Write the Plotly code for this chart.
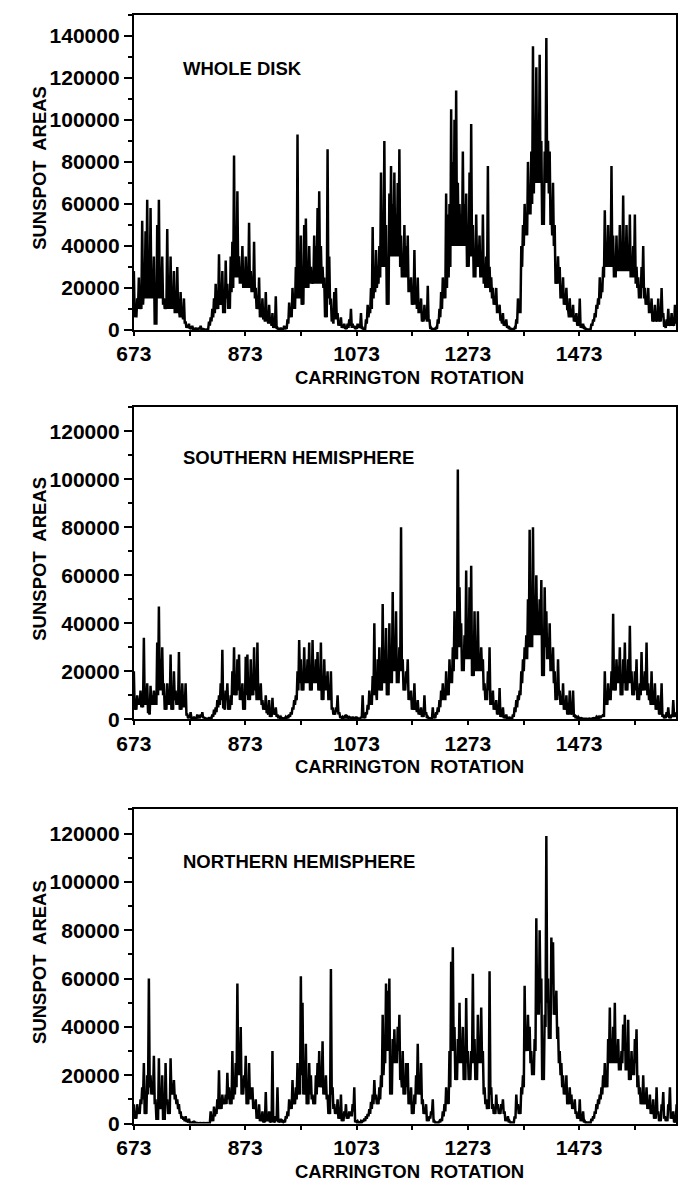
import plotly.graph_objects as go

# Carrington rotation grid: readings every 3rd rotation from 673,
# with a second reading of the local minimum half-way between them
rot_start = 673
rot_step = 3

# Sunspot areas in thousands - local maxima/readings
whole_disk_k = [
    28,8,15,25,12,52,20,47,62,25, 58,18,35,3,50,62,20,35,15,12,
    48,25,35,15,28,12,30,10,18,8, 15,4,2,3,1,2,0.5,1,0.5,1,
    2,0.5,0.3,0.2,0.5,4,6,10,15,22, 12,36,15,28,10,33,22,13,35,42,
    83,45,66,35,30,40,25,35,28,51, 28,22,42,20,12,25,8,15,6,18,
    5,12,4,8,2,16,1,0.5,1,0.5, 2,1,5,13,10,20,15,30,93,20,
    45,15,50,53,25,40,30,25,45,40, 58,66,40,30,25,8,86,35,15,5,
    18,20,8,4,6,2,3,1,3,5,
    10,3,2,1,3,2,8,1,0.5,5, 12,10,20,49,25,38,25,40,75,55,
    90,50,15,65,78,60,75,55,70,86, 45,30,50,40,45,20,25,15,38,20,
    25,10,15,5,12,8,21,5,1,0.5, 0.5,1,5,10,18,25,20,65,55,60,
    105,80,100,114,70,60,55,85,60,65, 35,75,98,50,30,55,40,45,30,55,
    30,35,78,30,25,20,15,20,10,12, 5,8,3,5,2,1,0.5,0.3,1,5,
    15,10,40,50,60,50,80,65,85,135, 100,125,85,131,90,55,85,139,90,85,
    60,70,50,25,35,30,20,25,15,20, 10,15,8,12,5,8,3,15,2,3,
    1,0.5,0.3,0.5,3,5,8,12,15,25, 20,30,57,35,50,40,78,45,30,45,
    35,50,30,64,35,50,40,55,30,40, 55,30,25,20,30,40,20,15,20,10,
    15,5,12,5,15,5,20,8,2,5, 10,3,8,3,12,5,
]
# local minima between readings (thousands)
whole_disk_low_k = [
    6,6,10,10,10,12,15,15,15,15, 15,15,3,3,15,15,15,12,10,10,
    10,10,10,10,8,8,8,6,6,5, 3,1,1,0.5,0.5,0.3,0.3,0.3,0.3,0.3,
    0.3,0.2,0.1,0.1,0.3,2,4,6,8,10, 10,12,12,8,8,15,10,10,18,20,
    25,25,25,22,22,20,20,20,20,20, 18,18,15,10,10,6,6,5,4,4,
    3,3,2,1,1,0.5,0.3,0.3,0.3,0.3, 0.5,0.5,3,6,6,10,10,15,15,15,
    12,12,20,20,20,22,22,22,22,22, 22,22,22,20,6,6,15,12,4,3,
    5,5,2,2,1,1,0.5,0.5,1,2,
    1,1,0.5,0.5,1,1,0.5,0.3,0.3,3, 6,8,10,15,18,20,22,25,30,30,
    30,12,12,35,35,35,35,35,35,30, 25,25,25,25,18,18,12,12,12,10,
    8,8,4,4,5,4,4,0.5,0.3,0.2, 0.2,0.5,3,6,10,15,15,20,25,30,
    40,40,40,40,40,40,40,40,40,30, 30,35,35,25,25,30,30,25,25,22,
    20,20,20,18,15,12,12,8,8,5, 3,2,2,1,0.5,0.3,0.2,0.2,0.5,3,
    8,8,30,40,45,45,55,55,60,65, 70,70,70,70,50,50,70,70,65,50,
    45,40,22,22,22,15,15,12,12,10, 6,6,6,4,4,2,2,1,1,0.5,
    0.3,0.2,0.2,0.3,2,4,6,10,12,15, 18,25,30,30,30,30,30,25,25,28,
    28,28,28,28,28,28,28,25,25,25, 22,20,15,15,20,15,12,12,8,8,
    4,4,4,4,4,4,6,2,1,2, 2,2,2,2,3,3,
]

southern_k = [
    20,5,10,8,12,6,34,8,15,3, 14,10,12,8,32,47,25,30,15,5,
    15,10,27,5,20,12,10,28,5,15, 8,15,2,1,3,0.5,1,0.5,2,1,
    2,3,1,0.3,0.3,0.5,0.5,2,4,5, 8,10,15,29,5,12,15,5,10,20,
    30,15,25,27,10,15,5,26,27,10, 25,15,30,20,32,10,15,8,5,10,
    3,8,2,9,3,5,2,1,1,0.5, 0.5,1,1,2,3,5,8,10,20,33,
    25,15,30,20,25,32,15,33,20,25, 28,15,32,10,25,18,20,10,20,5,
    3,5,10,3,1,1,1,2,1,1,
    0.5,1,0.5,1,0.5,0.3,1,10,1,3, 6,12,10,18,40,12,25,30,15,48,
    20,38,12,40,20,53,30,45,20,30, 80,25,15,20,25,10,12,5,15,5,
    8,3,5,2,10,3,1,0.5,0.5,5, 1,3,5,8,12,15,10,20,15,25,
    20,30,45,40,104,55,40,25,35,62, 30,55,64,20,45,30,45,25,30,25,
    15,10,20,30,8,12,5,8,3,13, 2,5,1,2,0.5,1,0.3,2,5,8,
    10,12,20,25,30,35,50,79,40,80, 45,60,40,50,58,20,55,45,30,40,
    25,30,20,10,25,12,8,15,5,10, 3,12,3,12,2,1,1,0.5,0.5,0.3,
    0.3,0.2,0.2,0.3,0.3,0.5,0.5,1,1,1, 1.5,2,20,8,15,10,20,44,15,25,
    22,30,12,25,32,15,25,39,20,15, 20,25,10,15,28,15,20,32,15,10,
    20,8,15,5,10,3,15,2,1,3, 5,1,2,8,2,3,
]
southern_low_k = [
    4,4,6,6,5,5,6,6,3,2, 6,6,6,6,10,12,12,10,4,4,
    6,6,4,4,8,6,6,4,4,5, 5,2,0.5,0.5,0.3,0.3,0.3,0.3,0.5,0.5,
    1,0.5,0.2,0.2,0.2,0.2,0.3,1,2,3, 5,6,8,5,4,8,4,4,6,10,
    10,10,12,8,8,4,4,10,8,8, 10,10,12,8,8,8,6,4,4,3,
    2,1,1,2,2,1,0.5,0.5,0.3,0.3, 0.3,0.5,0.5,1,2,4,6,8,12,15,
    12,12,15,15,15,12,12,15,15,15, 12,12,8,8,12,12,8,8,4,2,
    2,3,2,1,0.5,0.5,0.5,0.5,0.5,0.5,
    0.3,0.3,0.3,0.3,0.2,0.2,0.5,0.5,0.5,2, 4,6,6,10,10,8,12,12,12,15,
    15,10,10,15,15,20,20,15,15,20, 20,12,12,15,8,8,4,4,4,3,
    2,2,1,1,2,0.5,0.3,0.3,0.3,0.5, 0.5,2,3,5,8,8,8,10,10,15,
    15,20,25,25,30,30,20,20,25,25, 25,25,18,18,20,20,20,20,20,12,
    8,8,12,6,6,4,4,2,2,1, 1,0.5,0.5,0.3,0.3,0.2,0.2,1,3,5,
    8,10,15,20,25,25,30,30,30,35, 35,35,35,35,18,18,30,25,25,20,
    20,15,8,8,10,6,6,4,4,2, 2,2,2,1,0.5,0.5,0.3,0.2,0.2,0.2,
    0.1,0.1,0.1,0.1,0.2,0.3,0.3,0.5,0.5,0.5, 1,1,6,6,8,8,12,12,12,15,
    15,10,10,15,12,12,15,15,10,10, 12,8,8,10,12,12,12,10,8,6,
    6,6,4,4,2,2,1,0.5,0.5,1, 0.5,0.5,1,1,1,1,
]

northern_k = [
    8,3,8,5,10,15,25,5,20,60, 20,15,28,10,2,27,8,20,2,25,
    10,5,27,15,18,12,10,8,5,3, 2,3,1,2,0.5,0.5,1,0.3,0.2,0.2,
    0.2,0.2,0.2,0.2,0.2,0.3,5,2,7,5, 10,22,8,12,10,12,21,15,10,30,
    15,25,58,30,40,15,20,28,10,25, 15,15,8,10,3,8,2,5,1,13,
    2,5,1,30,1,3,15,1,2,1, 1,3,5,10,8,18,10,15,25,15,
    61,50,15,33,10,25,20,12,10,20, 25,30,20,34,15,20,12,5,64,15,
    8,5,10,3,12,2,5,8,3,5,
    5,8,15,1,1,0.5,1,1,2,3, 4,6,9,12,18,12,10,15,20,45,
    30,58,55,60,15,35,39,30,40,45, 20,30,15,25,25,10,15,5,12,20,
    33,15,25,10,5,8,2,3,5,10, 1,0.5,0.5,1,2,5,8,15,12,30,
    67,73,40,20,35,50,30,40,20,52, 30,20,30,62,35,20,45,30,48,30,
    15,10,8,63,15,8,5,12,8,5, 8,10,5,2,3,1,0.5,0.5,3,12,
    8,5,15,20,57,35,45,40,30,25, 35,85,55,80,60,20,45,119,60,40,
    77,75,50,55,40,30,25,20,15,20, 10,15,12,8,10,5,3,10,2,5,
    1,0.5,0.5,0.5,2,3,5,8,10,12, 15,20,25,20,35,48,35,40,50,30,
    35,25,30,41,45,25,43,20,30,25, 35,39,20,15,10,20,10,15,8,12,
    5,10,3,15,5,2,8,13,3,2, 8,15,3,5,1,8,
]
northern_low_k = [
    2,2,4,4,8,10,4,4,12,15, 12,12,8,2,2,6,6,2,2,8,
    4,4,12,12,10,8,6,4,2,2, 1,1,0.5,0.3,0.3,0.3,0.2,0.1,0.1,0.1,
    0.1,0.1,0.1,0.1,0.1,0.2,1,1,3,4, 6,6,6,8,8,8,10,8,8,10,
    12,15,20,20,12,12,15,8,8,10, 10,6,6,2,2,1,1,0.5,0.5,1,
    1,0.5,0.5,0.5,0.5,1,0.5,0.5,0.5,0.5, 0.5,2,3,6,6,8,8,10,12,12,
    20,12,12,8,8,12,10,8,8,12, 15,15,15,12,12,10,4,4,12,6,
    4,4,2,2,1,1,3,2,2,3,
    3,5,0.5,0.5,0.3,0.3,0.5,1,1,2, 3,4,6,8,10,8,8,10,15,20,
    25,30,30,12,12,25,25,25,30,18, 15,12,12,15,8,8,4,4,8,12,
    12,12,8,4,4,1,1,2,4,0.5, 0.3,0.3,0.3,0.5,1,3,5,8,8,15,
    30,30,18,18,25,25,25,18,18,25, 18,18,25,25,18,18,25,25,25,12,
    8,6,6,12,6,4,4,6,4,4, 6,4,1,1,0.5,0.3,0.3,0.3,2,6,
    4,4,12,15,30,30,30,25,20,20, 30,45,45,50,18,18,40,50,35,35,
    60,45,45,35,25,20,15,12,12,8, 8,8,6,6,4,2,2,1,1,0.5,
    0.3,0.3,0.3,0.3,1,2,4,6,8,10, 12,15,15,15,25,25,25,25,25,25,
    22,22,25,30,22,22,18,18,20,20, 25,15,12,8,8,8,8,6,6,4,
    4,2,2,4,1,1,6,2,1,1, 6,2,2,0.5,0.5,1,
]

panel_labels = ["WHOLE DISK", "SOUTHERN HEMISPHERE", "NORTHERN HEMISPHERE"]
y_max = [150000, 130000, 130000]
x_tick_vals = [673, 873, 1073, 1273, 1473]
x_minor_vals = [773, 973, 1173, 1373, 1573]
x_range = [673, 1647]

series = [(whole_disk_k, whole_disk_low_k),
          (southern_k, southern_low_k),
          (northern_k, northern_low_k)]

W, H = 678, 1192
FONT = "Liberation Sans, Arial, sans-serif"
# panel pixel boxes (top, bottom)
boxes = [(15, 333), (411, 726), (817, 1134)]
x_left, x_right = 119, 676

fig = go.Figure()
annotations = []
for p in range(3):
    hi, lo = series[p]
    xs, ys = [], []
    for i in range(len(hi)):
        xs.append(rot_start + rot_step * i)
        ys.append(hi[i] * 1000)
        if i < len(lo):
            xs.append(rot_start + rot_step * i + rot_step / 2)
            ys.append(lo[i] * 1000)
    xa = "x" if p == 0 else f"x{p+1}"
    ya = "y" if p == 0 else f"y{p+1}"
    fig.add_trace(go.Scatter(x=xs, y=ys, mode="lines",
                             line=dict(color="black", width=2.5),
                             xaxis=xa, yaxis=ya, showlegend=False,
                             hoverinfo="skip"))
    top, bot = boxes[p]
    ydom = [1 - bot / H, 1 - top / H]
    xdom = [x_left / W, x_right / W]
    xkey = "xaxis" if p == 0 else f"xaxis{p+1}"
    ykey = "yaxis" if p == 0 else f"yaxis{p+1}"
    tickfont = dict(family=FONT, size=21, color="black", weight="bold")
    fig.update_layout(**{
        xkey: dict(domain=xdom, range=x_range, anchor=ya,
                   tickmode="array", tickvals=x_tick_vals,
                   ticktext=[str(v) for v in x_tick_vals],
                   ticks="outside", ticklen=4, tickwidth=2, tickcolor="black",
                   minor=dict(tickvals=x_minor_vals,
                              ticks="outside", ticklen=4, tickwidth=2,
                              tickcolor="black"),
                   showline=True, linewidth=2, linecolor="black", mirror=True,
                   showgrid=False, zeroline=False, tickfont=tickfont),
        ykey: dict(domain=ydom, range=[0, y_max[p]], anchor=xa,
                   dtick=20000, tick0=0, tickformat="d",
                   ticks="outside", ticklen=8, tickwidth=2, tickcolor="black",
                   minor=dict(dtick=10000, ticks="outside", ticklen=4,
                              tickwidth=2, tickcolor="black"),
                   showline=True, linewidth=2, linecolor="black", mirror=True,
                   showgrid=False, zeroline=False, tickfont=tickfont),
    })
    tfont = dict(family=FONT, size=18.5, color="black", weight="bold")
    label_y = [69, 462, 870][p]
    annotations.append(dict(text=panel_labels[p], xref="paper", yref="paper",
                            x=167 / W, y=1 - label_y / H, xanchor="left",
                            yanchor="middle", showarrow=False, font=tfont))
    annotations.append(dict(text="CARRINGTON  ROTATION", xref="paper", yref="paper",
                            x=402 / W, y=1 - (bot + 48) / H, xanchor="center",
                            yanchor="middle", showarrow=False, font=tfont))
    annotations.append(dict(text="SUNSPOT  AREAS", xref="paper", yref="paper",
                            x=22 / W, y=1 - ((top + bot) / 2 - 5) / H,
                            xanchor="center", yanchor="middle", textangle=-90,
                            showarrow=False, font=tfont))

fig.update_layout(width=W, height=H, margin=dict(l=0, r=0, t=0, b=0),
                  paper_bgcolor="white", plot_bgcolor="white",
                  annotations=annotations)
fig.write_html("out.html")
